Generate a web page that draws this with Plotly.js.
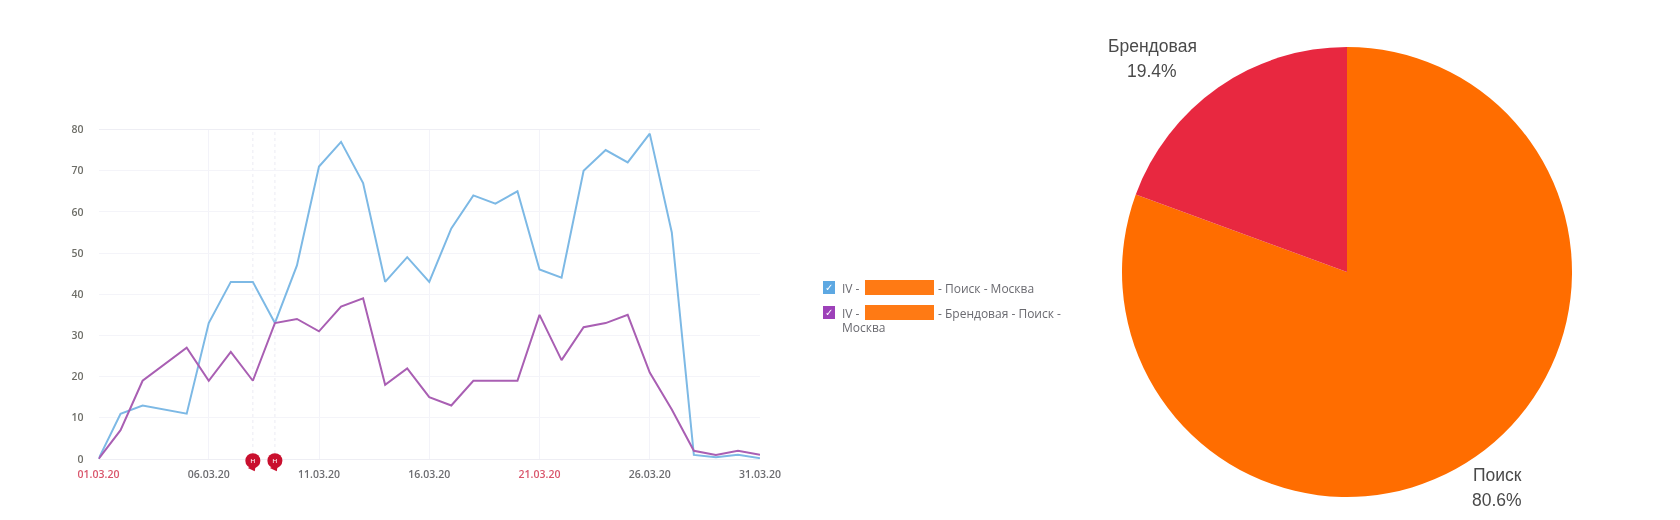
<!DOCTYPE html>
<html><head><meta charset="utf-8">
<script src="https://cdn.plot.ly/plotly-3.0.1.min.js"></script>
<style>html,body{margin:0;padding:0;background:#fff}#c{width:1680px;height:520px;filter:blur(0.4px)}</style>
</head><body><div id="c"></div>
<script>
const days = ["01.03.20","02.03.20","03.03.20","04.03.20","05.03.20","06.03.20","07.03.20","08.03.20","09.03.20","10.03.20","11.03.20","12.03.20","13.03.20","14.03.20","15.03.20","16.03.20","17.03.20","18.03.20","19.03.20","20.03.20","21.03.20","22.03.20","23.03.20","24.03.20","25.03.20","26.03.20","27.03.20","28.03.20","29.03.20","30.03.20","31.03.20"];
const searchMoscow = [0,11,13,12,11,33,43,43,33,47,71,77,67,43,49,43,56,64,62,65,46,44,70,75,72,79,55,1,0.4,1,0.2];
const brandMoscow = [0,7,19,23,27,19,26,19,33,34,31,37,39,18,22,15,13,19,19,19,35,24,32,33,35,21,12,2,1,2,1];
const tickDays = ["01.03.20","06.03.20","11.03.20","16.03.20","21.03.20","26.03.20","31.03.20"];
const tickLabels = ['<span style="color:#d9566c">01.03.20</span>',"06.03.20","11.03.20","16.03.20",'<span style="color:#d9566c">21.03.20</span>',"26.03.20","31.03.20"];
const yTicks = [0,10,20,30,40,50,60,70,80];
const noteDays = ["08.03.20","09.03.20"];
const noteLevel = [-0.4,-0.4];
const tailLevel = [-2.1,-2.1];
const noteText = ["н","н"];
const pieLabels = ["Поиск","Брендовая"];
const pieValues = [80.6,19.4];
const legendRow1 = "- Поиск - Москва";
const legendRow2 = "- Брендовая - Поиск -";
const legendRow2b = "Москва";

const W=1680,H=520;
const fx=p=>p/W, fy=p=>1-p/H;
const plotTop=129.5, plotBottom=459, noteBottom=480, plotLeft=98.5, plotRight=760;
const unit=(plotBottom-plotTop)/80;
const rect=(x0,y0,x1,y1,color)=>({type:'rect',xref:'paper',yref:'paper',x0:fx(x0),x1:fx(x1),y0:fy(y1),y1:fy(y0),fillcolor:color,line:{width:0},layer:'above'});
const txt=(x,y,t,o={})=>Object.assign({xref:'paper',yref:'paper',x:fx(x),y:fy(y),text:t,showarrow:false,xanchor:'left',yanchor:'middle',font:{family:'Open Sans, sans-serif',size:12,color:'#6a6a70'}},o);
const pieTxt=(x,y,t)=>txt(x,y,t,{xanchor:'center',font:{family:'Liberation Sans, Arial, sans-serif',size:17.5,color:'#4a4a4a'}});
const vline=d=>({type:'line',xref:'x',yref:'y',x0:d,x1:d,y0:0,y1:80,line:{color:'#ebebf3',width:1,dash:'3px,3px'},layer:'below'});
const pct=v=>v.toFixed(1)+'%';

const data=[
 {type:'scatter',mode:'lines',x:days,y:searchMoscow,line:{color:'#7db9e5',width:2},hoverinfo:'skip',cliponaxis:false},
 {type:'scatter',mode:'lines',x:days,y:brandMoscow,line:{color:'#a95fb3',width:2},hoverinfo:'skip',cliponaxis:false},
 {type:'scatter',mode:'markers',x:noteDays,y:tailLevel,xaxis:'x2',yaxis:'y2',marker:{symbol:'triangle-down',angle:-28,size:8,color:'#c90f2e'},hoverinfo:'skip',cliponaxis:false},
 {type:'scatter',mode:'markers+text',x:noteDays,y:noteLevel,xaxis:'x2',yaxis:'y2',text:noteText,textposition:'middle center',textfont:{family:'Open Sans, sans-serif',size:8,color:'#fff'},marker:{symbol:'circle',size:15,color:'#c90f2e'},hoverinfo:'skip',cliponaxis:false},
 {type:'pie',labels:pieLabels,values:pieValues,sort:false,direction:'clockwise',rotation:0,
  marker:{colors:['#ff6d00','#e82840'],line:{width:0}},textinfo:'none',
  domain:{x:[fx(1347-225),fx(1347+225)],y:[fy(497),fy(47)]},showlegend:false,automargin:false,hoverinfo:'skip'}
];
const layout={
 width:W,height:H,margin:{l:0,r:0,t:0,b:0},paper_bgcolor:'#fff',plot_bgcolor:'rgba(0,0,0,0)',showlegend:false,
 xaxis:{type:'category',categoryorder:'array',categoryarray:days,domain:[fx(plotLeft),fx(plotRight)],range:[0,30],anchor:'y',
  tickmode:'array',tickvals:tickDays,ticktext:tickLabels,showgrid:true,gridcolor:'#f3f3f9',gridwidth:1,ticks:'',zeroline:false,
  showline:true,linecolor:'#eeeef4',mirror:true,tickangle:0,ticklen:0,ticklabelstandoff:5,
  tickfont:{family:'Open Sans, sans-serif',size:10.5,weight:600,color:'#6c6c70'},automargin:false},
 yaxis:{domain:[fy(plotBottom),fy(plotTop)],range:[0,80],anchor:'x',tickmode:'array',tickvals:yTicks,showgrid:true,gridcolor:'#f4f4f9',gridwidth:1,ticks:'',zeroline:false,ticklabelstandoff:14,
  tickfont:{family:'Open Sans, sans-serif',size:10.5,weight:600,color:'#6e6e68'},automargin:false},
 xaxis2:{type:'category',categoryorder:'array',categoryarray:days,domain:[fx(plotLeft),fx(plotRight)],range:[0,30],anchor:'y2',visible:false,showgrid:false,zeroline:false},
 yaxis2:{anchor:'x2',domain:[fy(noteBottom),fy(plotTop)],range:[-(noteBottom-plotBottom)/unit,80],visible:false,showgrid:false,zeroline:false},
 shapes:[...noteDays.map(vline),
  rect(823,281,835,294,'#5da8e2'),rect(823,306,835,319,'#9d41b9'),
  rect(865,280,934,295,'#ff7a14'),rect(865,305,934,320,'#ff7a14')],
 annotations:[
  txt(829,287.5,'✓',{xanchor:'center',font:{family:'DejaVu Sans',size:10,color:'#fff'}}),
  txt(829,312.5,'✓',{xanchor:'center',font:{family:'DejaVu Sans',size:10,color:'#fff'}}),
  txt(840,288,'IV -'),txt(840,313,'IV -'),
  txt(936,288,legendRow1),txt(936,313,legendRow2),txt(840,327,legendRow2b),
  pieTxt(1152,46,pieLabels[1]),pieTxt(1152,71,pct(pieValues[1])),
  pieTxt(1497,475,pieLabels[0]),pieTxt(1497,500,pct(pieValues[0]))
 ]
};
Plotly.newPlot('c',data,layout,{displayModeBar:false,staticPlot:true});
</script></body></html>
